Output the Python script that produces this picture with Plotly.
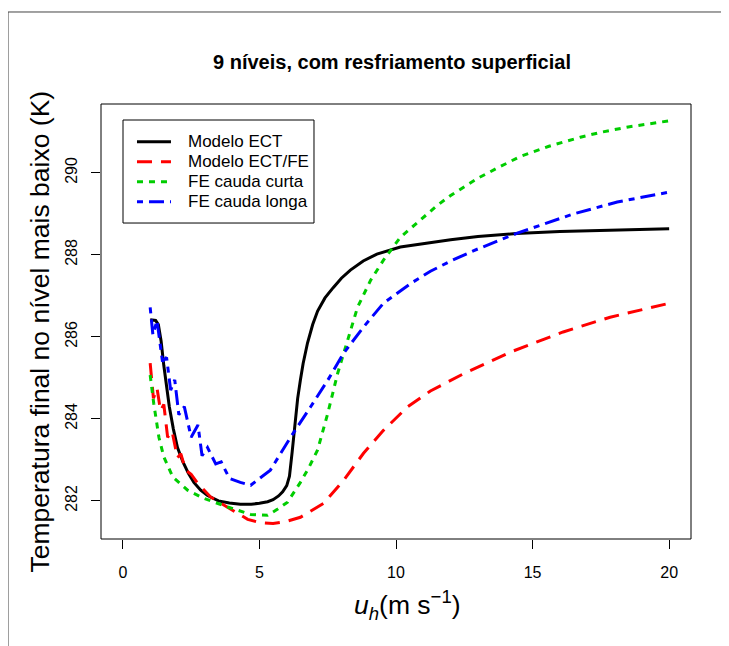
import plotly.graph_objects as go

# Modelo ECT
x_ect = [1.0, 1.2, 1.3, 1.4, 1.5, 1.6, 1.7, 1.85, 2.0, 2.2, 2.4, 2.6, 2.85, 3.1, 3.5, 3.9,
         4.3, 4.7, 5.0, 5.3, 5.5, 5.7, 5.85, 6.0, 6.1, 6.2, 6.3, 6.4, 6.5, 6.6, 6.76, 6.95,
         7.13, 7.4, 7.7, 8.0, 8.33, 8.8, 9.3, 10.16, 11.3, 12.0, 13.0, 14.4, 16.0, 18.0, 20.0]
y_ect = [286.42, 286.4, 286.3, 285.9, 285.3, 284.75, 284.3, 283.75, 283.3, 282.95, 282.67,
         282.45, 282.26, 282.13, 282.0, 281.95, 281.92, 281.92, 281.94, 281.98, 282.03,
         282.12, 282.22, 282.37, 282.6, 283.2, 283.95, 284.5, 284.95, 285.35, 285.85, 286.3,
         286.63, 286.95, 287.2, 287.43, 287.63, 287.85, 288.02, 288.19, 288.3, 288.37,
         288.45, 288.52, 288.57, 288.61, 288.64]

# Modelo ECT/FE
x_ectfe = [1.0, 1.12, 1.25, 1.38, 1.5, 1.64, 1.8, 2.0, 2.12, 2.3, 2.5, 2.74, 3.22, 3.84,
           4.57, 5.0, 5.5, 6.0, 6.5, 7.35, 8.08, 8.81, 9.54, 10.42, 11.26, 12.47, 14.19,
           16.12, 17.84, 20.0]
y_ectfe = [285.36, 284.5, 284.75, 284.2, 284.35, 283.55, 283.7, 283.05, 283.15, 282.75,
           282.65, 282.43, 282.09, 281.85, 281.55, 281.47, 281.45, 281.5, 281.6, 281.94,
           282.5, 283.16, 283.72, 284.29, 284.68, 285.1, 285.63, 286.12, 286.48, 286.82]

# FE cauda curta
x_curta = [1.0, 1.13, 1.32, 1.5, 1.83, 2.37, 2.97, 3.84, 4.68, 5.3, 5.67, 6.03, 6.5, 6.8,
           7.13, 7.5, 7.86, 8.23, 8.59, 9.07, 9.54, 10.16, 11.0, 11.5, 12.0, 12.5, 13.0,
           13.8, 14.55, 15.6, 16.75, 17.5, 18.5, 20.0]
y_curta = [285.07, 284.38, 283.55, 283.07, 282.58, 282.26, 282.06, 281.85, 281.67, 281.65,
           281.8, 281.97, 282.45, 282.8, 283.24, 284.13, 285.1, 285.92, 286.72, 287.38,
           287.87, 288.43, 288.92, 289.2, 289.45, 289.67, 289.87, 290.15, 290.4, 290.65,
           290.87, 290.99, 291.12, 291.27]

# FE cauda longa
x_longa = [1.0, 1.1, 1.25, 1.45, 1.6, 1.75, 1.9, 2.05, 2.25, 2.5, 2.75, 2.9, 3.1, 3.4, 3.6,
           3.9, 4.3, 4.68, 5.4, 6.14, 6.87, 7.5, 8.08, 8.81, 9.54, 10.53, 11.26, 12.0,
           12.83, 14.44, 16.5, 18.1, 20.0]
y_longa = [286.72, 286.05, 286.4, 285.4, 285.5, 284.7, 284.95, 284.1, 284.3, 283.55, 283.85,
           283.1, 283.3, 282.9, 282.95, 282.55, 282.45, 282.38, 282.75, 283.55, 284.29,
           284.94, 285.6, 286.24, 286.82, 287.3, 287.6, 287.85, 288.1, 288.53, 289.0,
           289.29, 289.53]

x_ticks = [0, 5, 10, 15, 20]
y_ticks = [282, 284, 286, 288, 290]

names = ["Modelo ECT", "Modelo ECT/FE", "FE cauda curta", "FE cauda longa"]
colors = ["black", "#ff0000", "#00cd00", "#0000ff"]
dashes = ["solid", "15px,9px", "6px,6px", "6px,6px,15px,6px"]

fnt = "Liberation Sans, Arial, sans-serif"

fig = go.Figure()
series = [(x_ect, y_ect), (x_ectfe, y_ectfe), (x_curta, y_curta), (x_longa, y_longa)]
for (xs, ys), nm, c, d in zip(series, names, colors, dashes):
    fig.add_trace(go.Scatter(x=xs, y=ys, mode="lines", name=nm, showlegend=False,
                             line=dict(color=c, width=3, dash=d)))

# legend drawn by hand (R style box)
shapes = [
    dict(type="rect", xref="paper", yref="paper", x0=0, x1=1, y0=0, y1=1,
         line=dict(color="black", width=1)),
    dict(type="rect", xref="paper", yref="paper", x0=-0.1576, x1=1.3, y0=-0.5, y1=1.2115,
         line=dict(color="#444444", width=1)),
    dict(type="rect", xref="paper", yref="paper", x0=0.0373, x1=0.361, y0=0.7264, y1=0.9632,
         line=dict(color="black", width=1), fillcolor="rgba(0,0,0,0)"),
]
annots = []
row_y = [0.9133, 0.8674, 0.8214, 0.7754]
for ry, nm, c, d in zip(row_y, names, colors, dashes):
    shapes.append(dict(type="line", xref="paper", yref="paper", x0=0.061, x1=0.1186,
                       y0=ry, y1=ry, line=dict(color=c, width=3, dash=d)))
    annots.append(dict(text=nm, xref="paper", yref="paper", x=0.1441, y=ry,
                       xanchor="left", yanchor="middle", showarrow=False,
                       font=dict(size=17)))

annots.append(dict(text="Temperatura final no nível mais baixo (K)", textangle=-90,
                   xref="paper", yref="paper", x=-0.1034, y=0.477, xanchor="center",
                   yanchor="middle", showarrow=False, font=dict(size=26.5)))
annots.append(dict(text="<i>u<sub>h</sub></i>(m s<sup>−1</sup>)",
                   xref="paper", yref="paper", x=0.52, y=-0.152, xanchor="center",
                   yanchor="middle", showarrow=False, font=dict(size=26.5)))

fig.update_layout(
    width=729, height=646,
    margin=dict(l=93, r=46, t=96, b=115),
    paper_bgcolor="white", plot_bgcolor="white",
    font=dict(family=fnt, color="black", size=16),
    title=dict(text="<b>9 níveis, com resfriamento superficial</b>",
               x=384 / 729, xanchor="center", y=1 - 54 / 646, yanchor="middle",
               font=dict(size=20)),
    showlegend=False,
    shapes=shapes,
    annotations=annots,
)

fig.update_xaxes(range=[-0.8, 20.8], tickvals=x_ticks, ticks="outside", ticklen=9,
                 tickcolor="black", showgrid=False, zeroline=False, showline=False,
                 tickfont=dict(size=16), ticklabelstandoff=10, automargin=False)
fig.update_yaxes(range=[281.07, 291.68], tickvals=y_ticks, ticks="outside", ticklen=9,
                 tickcolor="black", showgrid=False, zeroline=False, showline=False,
                 tickangle=-90, tickfont=dict(size=16), ticklabelstandoff=8,
                 automargin=False)

fig.write_html("out.html")
